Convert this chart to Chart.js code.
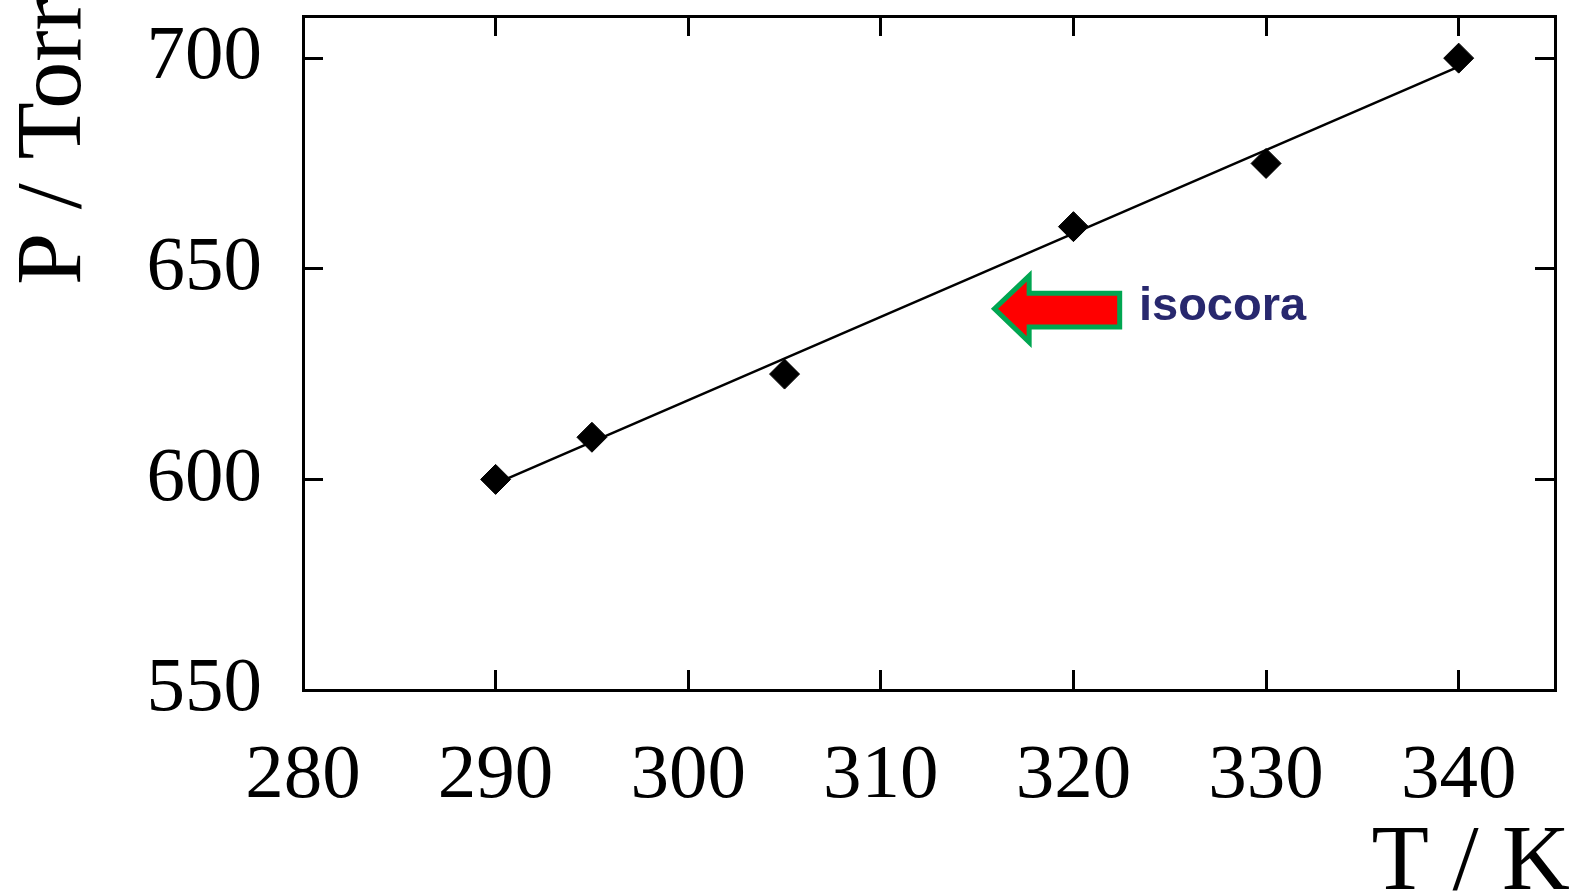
<!DOCTYPE html>
<html>
<head>
<meta charset="utf-8">
<script src="https://cdn.jsdelivr.net/npm/chart.js@4/dist/chart.umd.min.js"></script>
<style>
  body { margin: 0; background: #fff; overflow: hidden; }
  canvas { display: block; }
</style>
</head>
<body>
<canvas id="grafica" width="1590" height="891"></canvas>
<script>
// datos medidos (T en K, P en Torr)
const temperaturas = [290, 295, 305, 320, 330, 340];
const presiones = [600, 610, 625, 660, 675, 700];
// recta de ajuste, extremos
const ajusteT = [290, 340];
const ajusteP = [599, 698];

const xTicks = [280, 290, 300, 310, 320, 330, 340];
const yTicks = [550, 600, 650, 700];

// flecha "isocora" en unidades de los ejes
const flecha = { punta: [315.9, 640.5], baseCabeza: 317.7, cola: 322.4,
                 cabezaArriba: 648.3, cabezaAbajo: 632.6, cuerpoArriba: 644.2, cuerpoAbajo: 636.2 };
const etiqueta = { texto: 'isocora', t: 323.4, p: 637.9 };

const serif = "'Liberation Serif', 'Times New Roman', serif";

const ctx = document.getElementById('grafica');

const dibujoExtra = {
  id: 'dibujoExtra',
  afterDraw(chart) {
    const c = chart.ctx;
    const sx = chart.scales.x, sy = chart.scales.y;
    const px = v => sx.getPixelForValue(v);
    const py = v => sy.getPixelForValue(v);

    // flecha roja con borde verde
    c.save();
    c.beginPath();
    c.moveTo(px(flecha.punta[0]), py(flecha.punta[1]));
    c.lineTo(px(flecha.baseCabeza), py(flecha.cabezaArriba));
    c.lineTo(px(flecha.baseCabeza), py(flecha.cuerpoArriba));
    c.lineTo(px(flecha.cola), py(flecha.cuerpoArriba));
    c.lineTo(px(flecha.cola), py(flecha.cuerpoAbajo));
    c.lineTo(px(flecha.baseCabeza), py(flecha.cuerpoAbajo));
    c.lineTo(px(flecha.baseCabeza), py(flecha.cabezaAbajo));
    c.closePath();
    c.fillStyle = '#ff0000';
    c.fill();
    c.lineWidth = 5;
    c.lineJoin = 'miter';
    c.strokeStyle = '#00a651';
    c.stroke();

    c.fillStyle = '#28286e';
    c.font = "bold 47px 'Liberation Sans', Arial, sans-serif";
    c.textAlign = 'left';
    c.textBaseline = 'alphabetic';
    c.fillText(etiqueta.texto, px(etiqueta.t), py(etiqueta.p));

    // titulos de ejes
    c.fillStyle = '#000';
    c.font = '94px ' + serif;
    c.textAlign = 'right';
    c.fillText('T / K', chart.chartArea.right + 15, 889);

    c.translate(80, chart.chartArea.top + 269);
    c.rotate(-Math.PI / 2);
    c.textAlign = 'left';
    c.fillText('P / Torr', 0, 0);
    c.restore();
  }
};

const rejilla = { drawOnChartArea: false, tickLength: -20, color: '#000', lineWidth: 3 };
const borde = { display: true, color: '#000', width: 3 };

function sinMargenes(s) {
  s.paddingTop = 0; s.paddingBottom = 0; s.paddingLeft = 0; s.paddingRight = 0;
}

const grafica = new Chart(ctx, {
  type: 'scatter',
  data: {
    datasets: [{
      label: 'datos',
      data: temperaturas.map((t, i) => ({ x: t, y: presiones[i] })),
      pointStyle: 'rectRot',
      pointRadius: 15,
      pointHoverRadius: 15,
      backgroundColor: '#000',
      borderColor: '#000',
      borderWidth: 1,
      showLine: false,
      order: 0
    }, {
      label: 'ajuste',
      type: 'line',
      data: ajusteT.map((t, i) => ({ x: t, y: ajusteP[i] })),
      borderColor: '#000',
      borderWidth: 2.5,
      pointRadius: 0,
      fill: false,
      order: 1
    }]
  },
  options: {
    responsive: false,
    animation: false,
    layout: { padding: { top: 12, right: 35, left: 0, bottom: 0 } },
    plugins: { legend: { display: false }, tooltip: { enabled: false } },
    scales: {
      x: {
        type: 'linear', position: 'bottom', min: 280, max: 345,
        afterBuildTicks: s => { s.ticks = xTicks.map(v => ({ value: v })); },
        ticks: { font: { family: serif, size: 77 }, color: '#000', padding: 61, maxRotation: 0 },
        grid: rejilla, border: borde,
        afterFit: s => { s.height = 201; sinMargenes(s); }
      },
      x2: {
        type: 'linear', axis: 'x', position: 'top', min: 280, max: 345,
        afterBuildTicks: s => { s.ticks = xTicks.map(v => ({ value: v })); },
        ticks: { display: false },
        grid: rejilla, border: borde,
        afterFit: s => { s.height = 0; sinMargenes(s); }
      },
      y: {
        type: 'linear', position: 'left', min: 550, max: 710,
        afterBuildTicks: s => { s.ticks = yTicks.map(v => ({ value: v })); },
        ticks: { font: { family: serif, size: 77 }, color: '#000', padding: 61 },
        grid: rejilla, border: borde,
        afterFit: s => { s.width = 303; sinMargenes(s); }
      },
      y2: {
        type: 'linear', axis: 'y', position: 'right', min: 550, max: 710,
        afterBuildTicks: s => { s.ticks = yTicks.map(v => ({ value: v })); },
        ticks: { display: false },
        grid: rejilla, border: borde,
        afterFit: s => { s.width = 0; sinMargenes(s); }
      }
    }
  },
  plugins: [dibujoExtra]
});
</script>
</body>
</html>
